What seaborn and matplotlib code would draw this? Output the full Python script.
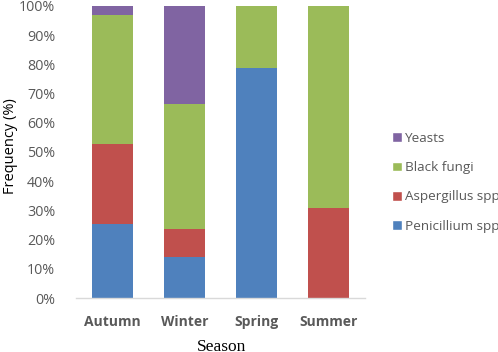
import numpy as np
import pandas as pd
import seaborn as sns
import matplotlib.pyplot as plt
from matplotlib.patches import Patch

# data (percent of isolates per season)
seasons = ["Autumn", "Winter", "Spring", "Summer"]
penicillium = [25.3, 13.9, 78.7, 0.0]
aspergillus = [27.4, 9.7, 0.0, 30.9]
black_fungi = [44.3, 42.9, 21.3, 69.1]
yeasts = [3.0, 33.5, 0.0, 0.0]

groups = ["Penicillium spp", "Aspergillus spp", "Black fungi", "Yeasts"]
colors = ["#4F81BD", "#C0504D", "#9BBB59", "#8064A2"]

df = pd.DataFrame({
    "Season": seasons,
    "Penicillium spp": penicillium,
    "Aspergillus spp": aspergillus,
    "Black fungi": black_fungi,
    "Yeasts": yeasts,
})

sns.set_style("white")
plt.rcParams['font.family'] = ['Open Sans', 'DejaVu Sans']

fig = plt.figure(figsize=(4.98, 3.52), dpi=100)
ax = fig.add_axes([0.1526, 0.1534, 0.5804, 0.8296])

gray = "#595959"
bottom = np.zeros(len(seasons))
for g, c in zip(groups, colors):
    vals = df[g].to_numpy() / 100
    sns.barplot(x=df["Season"], y=vals, bottom=bottom, color=c, saturation=1,
                width=0.57, ax=ax, errorbar=None, linewidth=0)
    bottom += vals

ax.set_xlim(-0.5, 3.5)
ax.set_ylim(0, 1)
ticks = np.arange(0, 1.01, 0.1)
ax.set_yticks(ticks)
ax.set_yticklabels([f"{int(round(v * 100))}%" for v in ticks], color=gray, fontsize=10.3)
ax.tick_params(axis="y", length=0, pad=15)
ax.tick_params(axis="x", length=0, pad=12)
for lab in ax.get_xticklabels():
    lab.set_fontweight("bold")
    lab.set_color(gray)
    lab.set_fontsize(10)

for s in ["top", "right", "left"]:
    ax.spines[s].set_visible(False)
ax.spines["bottom"].set_color("#D9D9D9")
ax.spines["bottom"].set_linewidth(1)

ax.set_xlabel("Season", family="Liberation Serif", fontsize=12.5, color="black")
ax.xaxis.set_label_coords(0.505, -0.14)
ax.set_ylabel("Frequency (%)", fontsize=10.5, color="black")
ax.yaxis.set_label_coords(-0.228, 0.519)
ax.yaxis.label.set_va("center")

handles = [Patch(facecolor=c, label=g) for g, c in zip(groups, colors)][::-1]
leg = fig.legend(handles=handles, loc="center left", bbox_to_anchor=(0.787, 0.482),
                 frameon=False, fontsize=9.7, handlelength=0.75, handleheight=0.75,
                 handletextpad=0.2, labelspacing=1.2, borderpad=0, borderaxespad=0)
for t in leg.get_texts():
    t.set_color(gray)

fig.savefig("out.png", dpi=100)
